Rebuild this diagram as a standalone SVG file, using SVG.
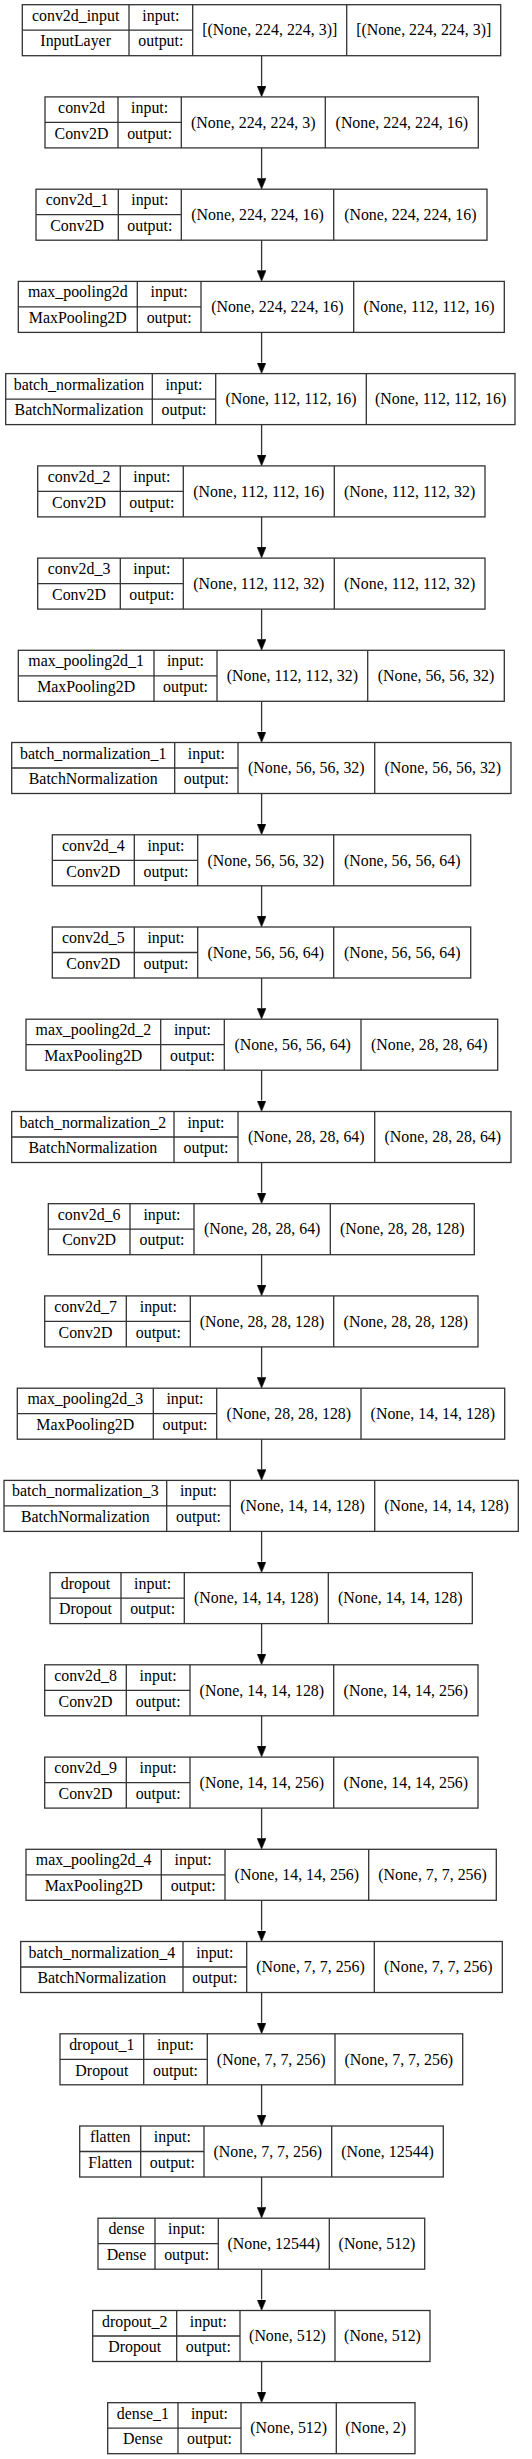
<svg xmlns="http://www.w3.org/2000/svg" width="532" height="2459" viewBox="0 0 532 2459">
<style>
.b{fill:none;stroke:#333;stroke-width:1.3}
.t{font-family:"Liberation Serif","Times New Roman",serif;font-size:15.9px;fill:#000;text-anchor:middle}
.e{stroke:#333;stroke-width:1.3;fill:none}
</style>
<defs>
<marker id="ah" viewBox="0 0 11 9" refX="0" refY="4.5" markerWidth="11" markerHeight="9" markerUnits="userSpaceOnUse" orient="auto">
<path d="M0,0 L11,4.5 L0,9 z" fill="#000" stroke="#333" stroke-width="0.6"/>
</marker>
</defs>
<rect width="532" height="2459" fill="#fff"/>
<g id="connectors">
<line class="e" marker-end="url(#ah)" x1="261.6" y1="55.7" x2="261.6" y2="85.9"/>
<line class="e" marker-end="url(#ah)" x1="261.6" y1="147.9" x2="261.6" y2="178.2"/>
<line class="e" marker-end="url(#ah)" x1="261.6" y1="240.2" x2="261.6" y2="270.4"/>
<line class="e" marker-end="url(#ah)" x1="261.6" y1="332.4" x2="261.6" y2="362.6"/>
<line class="e" marker-end="url(#ah)" x1="261.6" y1="424.6" x2="261.6" y2="454.9"/>
<line class="e" marker-end="url(#ah)" x1="261.6" y1="516.9" x2="261.6" y2="547.1"/>
<line class="e" marker-end="url(#ah)" x1="261.6" y1="609.1" x2="261.6" y2="639.3"/>
<line class="e" marker-end="url(#ah)" x1="261.6" y1="701.3" x2="261.6" y2="731.5"/>
<line class="e" marker-end="url(#ah)" x1="261.6" y1="793.5" x2="261.6" y2="823.8"/>
<line class="e" marker-end="url(#ah)" x1="261.6" y1="885.8" x2="261.6" y2="916.0"/>
<line class="e" marker-end="url(#ah)" x1="261.6" y1="978.0" x2="261.6" y2="1008.2"/>
<line class="e" marker-end="url(#ah)" x1="261.6" y1="1070.2" x2="261.6" y2="1100.5"/>
<line class="e" marker-end="url(#ah)" x1="261.6" y1="1162.5" x2="261.6" y2="1192.7"/>
<line class="e" marker-end="url(#ah)" x1="261.6" y1="1254.7" x2="261.6" y2="1284.9"/>
<line class="e" marker-end="url(#ah)" x1="261.6" y1="1346.9" x2="261.6" y2="1377.2"/>
<line class="e" marker-end="url(#ah)" x1="261.6" y1="1439.2" x2="261.6" y2="1469.4"/>
<line class="e" marker-end="url(#ah)" x1="261.6" y1="1531.4" x2="261.6" y2="1561.6"/>
<line class="e" marker-end="url(#ah)" x1="261.6" y1="1623.6" x2="261.6" y2="1653.8"/>
<line class="e" marker-end="url(#ah)" x1="261.6" y1="1715.8" x2="261.6" y2="1746.1"/>
<line class="e" marker-end="url(#ah)" x1="261.6" y1="1808.1" x2="261.6" y2="1838.3"/>
<line class="e" marker-end="url(#ah)" x1="261.6" y1="1900.3" x2="261.6" y2="1930.5"/>
<line class="e" marker-end="url(#ah)" x1="261.6" y1="1992.5" x2="261.6" y2="2022.8"/>
<line class="e" marker-end="url(#ah)" x1="261.6" y1="2084.8" x2="261.6" y2="2115.0"/>
<line class="e" marker-end="url(#ah)" x1="261.6" y1="2177.0" x2="261.6" y2="2207.2"/>
<line class="e" marker-end="url(#ah)" x1="261.6" y1="2269.2" x2="261.6" y2="2299.5"/>
<line class="e" marker-end="url(#ah)" x1="261.6" y1="2361.5" x2="261.6" y2="2391.7"/>
</g>

<g id="conv2d_input" transform="translate(0,4.7)">
<rect class="b" x="22.3" y="0" width="478.4" height="51"/>
<path class="b" d="M129,0V51M192.7,0V51M346.7,0V51M22.3,25.5H192.7"/>
<text class="t" x="75.65" y="16">conv2d_input</text>
<text class="t" x="75.65" y="41.8">InputLayer</text>
<text class="t" x="160.85" y="16">input:</text>
<text class="t" x="160.85" y="41.8">output:</text>
<text class="t" x="269.7" y="30.8">[(None, 224, 224, 3)]</text>
<text class="t" x="423.7" y="30.8">[(None, 224, 224, 3)]</text>
</g>

<g id="conv2d" transform="translate(0,96.9)">
<rect class="b" x="45" y="0" width="433.3" height="51"/>
<path class="b" d="M118,0V51M181.3,0V51M325.3,0V51M45,25.5H181.3"/>
<text class="t" x="81.5" y="16">conv2d</text>
<text class="t" x="81.5" y="41.8">Conv2D</text>
<text class="t" x="149.65" y="16">input:</text>
<text class="t" x="149.65" y="41.8">output:</text>
<text class="t" x="253.3" y="30.8">(None, 224, 224, 3)</text>
<text class="t" x="401.8" y="30.8">(None, 224, 224, 16)</text>
</g>

<g id="conv2d_1" transform="translate(0,189.2)">
<rect class="b" x="36" y="0" width="451" height="51"/>
<path class="b" d="M118.3,0V51M181.3,0V51M333.7,0V51M36,25.5H181.3"/>
<text class="t" x="77.15" y="16">conv2d_1</text>
<text class="t" x="77.15" y="41.8">Conv2D</text>
<text class="t" x="149.8" y="16">input:</text>
<text class="t" x="149.8" y="41.8">output:</text>
<text class="t" x="257.5" y="30.8">(None, 224, 224, 16)</text>
<text class="t" x="410.35" y="30.8">(None, 224, 224, 16)</text>
</g>

<g id="max_pooling2d" transform="translate(0,281.4)">
<rect class="b" x="18.3" y="0" width="486" height="51"/>
<path class="b" d="M137.3,0V51M201,0V51M353.7,0V51M18.3,25.5H201"/>
<text class="t" x="77.8" y="16">max_pooling2d</text>
<text class="t" x="77.8" y="41.8">MaxPooling2D</text>
<text class="t" x="169.15" y="16">input:</text>
<text class="t" x="169.15" y="41.8">output:</text>
<text class="t" x="277.35" y="30.8">(None, 224, 224, 16)</text>
<text class="t" x="429" y="30.8">(None, 112, 112, 16)</text>
</g>

<g id="batch_normalization" transform="translate(0,373.6)">
<rect class="b" x="5.7" y="0" width="509.3" height="51"/>
<path class="b" d="M152.3,0V51M215.7,0V51M366.3,0V51M5.7,25.5H215.7"/>
<text class="t" x="79" y="16">batch_normalization</text>
<text class="t" x="79" y="41.8">BatchNormalization</text>
<text class="t" x="184" y="16">input:</text>
<text class="t" x="184" y="41.8">output:</text>
<text class="t" x="291" y="30.8">(None, 112, 112, 16)</text>
<text class="t" x="440.65" y="30.8">(None, 112, 112, 16)</text>
</g>

<g id="conv2d_2" transform="translate(0,465.9)">
<rect class="b" x="37.7" y="0" width="447.3" height="51"/>
<path class="b" d="M120.3,0V51M183.3,0V51M334.3,0V51M37.7,25.5H183.3"/>
<text class="t" x="79" y="16">conv2d_2</text>
<text class="t" x="79" y="41.8">Conv2D</text>
<text class="t" x="151.8" y="16">input:</text>
<text class="t" x="151.8" y="41.8">output:</text>
<text class="t" x="258.8" y="30.8">(None, 112, 112, 16)</text>
<text class="t" x="409.65" y="30.8">(None, 112, 112, 32)</text>
</g>

<g id="conv2d_3" transform="translate(0,558.1)">
<rect class="b" x="37.7" y="0" width="447.3" height="51"/>
<path class="b" d="M120.3,0V51M183.3,0V51M334.3,0V51M37.7,25.5H183.3"/>
<text class="t" x="79" y="16">conv2d_3</text>
<text class="t" x="79" y="41.8">Conv2D</text>
<text class="t" x="151.8" y="16">input:</text>
<text class="t" x="151.8" y="41.8">output:</text>
<text class="t" x="258.8" y="30.8">(None, 112, 112, 32)</text>
<text class="t" x="409.65" y="30.8">(None, 112, 112, 32)</text>
</g>

<g id="max_pooling2d_1" transform="translate(0,650.3)">
<rect class="b" x="18.3" y="0" width="486" height="51"/>
<path class="b" d="M154,0V51M217,0V51M367.7,0V51M18.3,25.5H217"/>
<text class="t" x="86.15" y="16">max_pooling2d_1</text>
<text class="t" x="86.15" y="41.8">MaxPooling2D</text>
<text class="t" x="185.5" y="16">input:</text>
<text class="t" x="185.5" y="41.8">output:</text>
<text class="t" x="292.35" y="30.8">(None, 112, 112, 32)</text>
<text class="t" x="436" y="30.8">(None, 56, 56, 32)</text>
</g>

<g id="batch_normalization_1" transform="translate(0,742.5)">
<rect class="b" x="11.7" y="0" width="499.3" height="51"/>
<path class="b" d="M174.7,0V51M238,0V51M374.7,0V51M11.7,25.5H238"/>
<text class="t" x="93.2" y="16">batch_normalization_1</text>
<text class="t" x="93.2" y="41.8">BatchNormalization</text>
<text class="t" x="206.35" y="16">input:</text>
<text class="t" x="206.35" y="41.8">output:</text>
<text class="t" x="306.35" y="30.8">(None, 56, 56, 32)</text>
<text class="t" x="442.85" y="30.8">(None, 56, 56, 32)</text>
</g>

<g id="conv2d_4" transform="translate(0,834.8)">
<rect class="b" x="52.3" y="0" width="418.4" height="51"/>
<path class="b" d="M134.3,0V51M197.7,0V51M333.7,0V51M52.3,25.5H197.7"/>
<text class="t" x="93.3" y="16">conv2d_4</text>
<text class="t" x="93.3" y="41.8">Conv2D</text>
<text class="t" x="166" y="16">input:</text>
<text class="t" x="166" y="41.8">output:</text>
<text class="t" x="265.7" y="30.8">(None, 56, 56, 32)</text>
<text class="t" x="402.2" y="30.8">(None, 56, 56, 64)</text>
</g>

<g id="conv2d_5" transform="translate(0,927)">
<rect class="b" x="52.3" y="0" width="418.4" height="51"/>
<path class="b" d="M134.3,0V51M197.7,0V51M333.7,0V51M52.3,25.5H197.7"/>
<text class="t" x="93.3" y="16">conv2d_5</text>
<text class="t" x="93.3" y="41.8">Conv2D</text>
<text class="t" x="166" y="16">input:</text>
<text class="t" x="166" y="41.8">output:</text>
<text class="t" x="265.7" y="30.8">(None, 56, 56, 64)</text>
<text class="t" x="402.2" y="30.8">(None, 56, 56, 64)</text>
</g>

<g id="max_pooling2d_2" transform="translate(0,1019.2)">
<rect class="b" x="26" y="0" width="471.7" height="51"/>
<path class="b" d="M160.7,0V51M224.3,0V51M361,0V51M26,25.5H224.3"/>
<text class="t" x="93.35" y="16">max_pooling2d_2</text>
<text class="t" x="93.35" y="41.8">MaxPooling2D</text>
<text class="t" x="192.5" y="16">input:</text>
<text class="t" x="192.5" y="41.8">output:</text>
<text class="t" x="292.65" y="30.8">(None, 56, 56, 64)</text>
<text class="t" x="429.35" y="30.8">(None, 28, 28, 64)</text>
</g>

<g id="batch_normalization_2" transform="translate(0,1111.5)">
<rect class="b" x="11.7" y="0" width="499.3" height="51"/>
<path class="b" d="M174,0V51M238,0V51M374.7,0V51M11.7,25.5H238"/>
<text class="t" x="92.85" y="16">batch_normalization_2</text>
<text class="t" x="92.85" y="41.8">BatchNormalization</text>
<text class="t" x="206" y="16">input:</text>
<text class="t" x="206" y="41.8">output:</text>
<text class="t" x="306.35" y="30.8">(None, 28, 28, 64)</text>
<text class="t" x="442.85" y="30.8">(None, 28, 28, 64)</text>
</g>

<g id="conv2d_6" transform="translate(0,1203.7)">
<rect class="b" x="48.3" y="0" width="426" height="51"/>
<path class="b" d="M130,0V51M194,0V51M330.3,0V51M48.3,25.5H194"/>
<text class="t" x="89.15" y="16">conv2d_6</text>
<text class="t" x="89.15" y="41.8">Conv2D</text>
<text class="t" x="162" y="16">input:</text>
<text class="t" x="162" y="41.8">output:</text>
<text class="t" x="262.15" y="30.8">(None, 28, 28, 64)</text>
<text class="t" x="402.3" y="30.8">(None, 28, 28, 128)</text>
</g>

<g id="conv2d_7" transform="translate(0,1295.9)">
<rect class="b" x="44.7" y="0" width="433.3" height="51"/>
<path class="b" d="M126.3,0V51M190.3,0V51M333.7,0V51M44.7,25.5H190.3"/>
<text class="t" x="85.5" y="16">conv2d_7</text>
<text class="t" x="85.5" y="41.8">Conv2D</text>
<text class="t" x="158.3" y="16">input:</text>
<text class="t" x="158.3" y="41.8">output:</text>
<text class="t" x="262" y="30.8">(None, 28, 28, 128)</text>
<text class="t" x="405.85" y="30.8">(None, 28, 28, 128)</text>
</g>

<g id="max_pooling2d_3" transform="translate(0,1388.2)">
<rect class="b" x="17.3" y="0" width="487.4" height="51"/>
<path class="b" d="M153.3,0V51M216.7,0V51M361,0V51M17.3,25.5H216.7"/>
<text class="t" x="85.3" y="16">max_pooling2d_3</text>
<text class="t" x="85.3" y="41.8">MaxPooling2D</text>
<text class="t" x="185" y="16">input:</text>
<text class="t" x="185" y="41.8">output:</text>
<text class="t" x="288.85" y="30.8">(None, 28, 28, 128)</text>
<text class="t" x="432.85" y="30.8">(None, 14, 14, 128)</text>
</g>

<g id="batch_normalization_3" transform="translate(0,1480.4)">
<rect class="b" x="4" y="0" width="514.3" height="51"/>
<path class="b" d="M166.7,0V51M230.3,0V51M374.7,0V51M4,25.5H230.3"/>
<text class="t" x="85.35" y="16">batch_normalization_3</text>
<text class="t" x="85.35" y="41.8">BatchNormalization</text>
<text class="t" x="198.5" y="16">input:</text>
<text class="t" x="198.5" y="41.8">output:</text>
<text class="t" x="302.5" y="30.8">(None, 14, 14, 128)</text>
<text class="t" x="446.5" y="30.8">(None, 14, 14, 128)</text>
</g>

<g id="dropout" transform="translate(0,1572.6)">
<rect class="b" x="50" y="0" width="422.3" height="51"/>
<path class="b" d="M121,0V51M184.3,0V51M328.3,0V51M50,25.5H184.3"/>
<text class="t" x="85.5" y="16">dropout</text>
<text class="t" x="85.5" y="41.8">Dropout</text>
<text class="t" x="152.65" y="16">input:</text>
<text class="t" x="152.65" y="41.8">output:</text>
<text class="t" x="256.3" y="30.8">(None, 14, 14, 128)</text>
<text class="t" x="400.3" y="30.8">(None, 14, 14, 128)</text>
</g>

<g id="conv2d_8" transform="translate(0,1664.8)">
<rect class="b" x="44.7" y="0" width="433.3" height="51"/>
<path class="b" d="M126.3,0V51M190,0V51M333.7,0V51M44.7,25.5H190"/>
<text class="t" x="85.5" y="16">conv2d_8</text>
<text class="t" x="85.5" y="41.8">Conv2D</text>
<text class="t" x="158.15" y="16">input:</text>
<text class="t" x="158.15" y="41.8">output:</text>
<text class="t" x="261.85" y="30.8">(None, 14, 14, 128)</text>
<text class="t" x="405.85" y="30.8">(None, 14, 14, 256)</text>
</g>

<g id="conv2d_9" transform="translate(0,1757.1)">
<rect class="b" x="44.7" y="0" width="433.3" height="51"/>
<path class="b" d="M126.3,0V51M190,0V51M333.7,0V51M44.7,25.5H190"/>
<text class="t" x="85.5" y="16">conv2d_9</text>
<text class="t" x="85.5" y="41.8">Conv2D</text>
<text class="t" x="158.15" y="16">input:</text>
<text class="t" x="158.15" y="41.8">output:</text>
<text class="t" x="261.85" y="30.8">(None, 14, 14, 256)</text>
<text class="t" x="405.85" y="30.8">(None, 14, 14, 256)</text>
</g>

<g id="max_pooling2d_4" transform="translate(0,1849.3)">
<rect class="b" x="26" y="0" width="470.3" height="51"/>
<path class="b" d="M161.3,0V51M225,0V51M368.7,0V51M26,25.5H225"/>
<text class="t" x="93.65" y="16">max_pooling2d_4</text>
<text class="t" x="93.65" y="41.8">MaxPooling2D</text>
<text class="t" x="193.15" y="16">input:</text>
<text class="t" x="193.15" y="41.8">output:</text>
<text class="t" x="296.85" y="30.8">(None, 14, 14, 256)</text>
<text class="t" x="432.5" y="30.8">(None, 7, 7, 256)</text>
</g>

<g id="batch_normalization_4" transform="translate(0,1941.5)">
<rect class="b" x="20.7" y="0" width="481.6" height="51"/>
<path class="b" d="M183,0V51M246.7,0V51M374.3,0V51M20.7,25.5H246.7"/>
<text class="t" x="101.85" y="16">batch_normalization_4</text>
<text class="t" x="101.85" y="41.8">BatchNormalization</text>
<text class="t" x="214.85" y="16">input:</text>
<text class="t" x="214.85" y="41.8">output:</text>
<text class="t" x="310.5" y="30.8">(None, 7, 7, 256)</text>
<text class="t" x="438.3" y="30.8">(None, 7, 7, 256)</text>
</g>

<g id="dropout_1" transform="translate(0,2033.8)">
<rect class="b" x="60" y="0" width="402.7" height="51"/>
<path class="b" d="M143.7,0V51M207.3,0V51M335,0V51M60,25.5H207.3"/>
<text class="t" x="101.85" y="16">dropout_1</text>
<text class="t" x="101.85" y="41.8">Dropout</text>
<text class="t" x="175.5" y="16">input:</text>
<text class="t" x="175.5" y="41.8">output:</text>
<text class="t" x="271.15" y="30.8">(None, 7, 7, 256)</text>
<text class="t" x="398.85" y="30.8">(None, 7, 7, 256)</text>
</g>

<g id="flatten" transform="translate(0,2126)">
<rect class="b" x="79.7" y="0" width="363.6" height="51"/>
<path class="b" d="M140.7,0V51M204,0V51M331.7,0V51M79.7,25.5H204"/>
<text class="t" x="110.2" y="16">flatten</text>
<text class="t" x="110.2" y="41.8">Flatten</text>
<text class="t" x="172.35" y="16">input:</text>
<text class="t" x="172.35" y="41.8">output:</text>
<text class="t" x="267.85" y="30.8">(None, 7, 7, 256)</text>
<text class="t" x="387.5" y="30.8">(None, 12544)</text>
</g>

<g id="dense" transform="translate(0,2218.2)">
<rect class="b" x="98" y="0" width="326.7" height="51"/>
<path class="b" d="M155,0V51M218.3,0V51M329.3,0V51M98,25.5H218.3"/>
<text class="t" x="126.5" y="16">dense</text>
<text class="t" x="126.5" y="41.8">Dense</text>
<text class="t" x="186.65" y="16">input:</text>
<text class="t" x="186.65" y="41.8">output:</text>
<text class="t" x="273.8" y="30.8">(None, 12544)</text>
<text class="t" x="377" y="30.8">(None, 512)</text>
</g>

<g id="dropout_2" transform="translate(0,2310.5)">
<rect class="b" x="92.7" y="0" width="337.3" height="51"/>
<path class="b" d="M176.7,0V51M240,0V51M335,0V51M92.7,25.5H240"/>
<text class="t" x="134.7" y="16">dropout_2</text>
<text class="t" x="134.7" y="41.8">Dropout</text>
<text class="t" x="208.35" y="16">input:</text>
<text class="t" x="208.35" y="41.8">output:</text>
<text class="t" x="287.5" y="30.8">(None, 512)</text>
<text class="t" x="382.5" y="30.8">(None, 512)</text>
</g>

<g id="dense_1" transform="translate(0,2402.7)">
<rect class="b" x="107.7" y="0" width="307.3" height="51"/>
<path class="b" d="M178,0V51M241,0V51M336.3,0V51M107.7,25.5H241"/>
<text class="t" x="142.85" y="16">dense_1</text>
<text class="t" x="142.85" y="41.8">Dense</text>
<text class="t" x="209.5" y="16">input:</text>
<text class="t" x="209.5" y="41.8">output:</text>
<text class="t" x="288.65" y="30.8">(None, 512)</text>
<text class="t" x="375.65" y="30.8">(None, 2)</text>
</g>
</svg>
